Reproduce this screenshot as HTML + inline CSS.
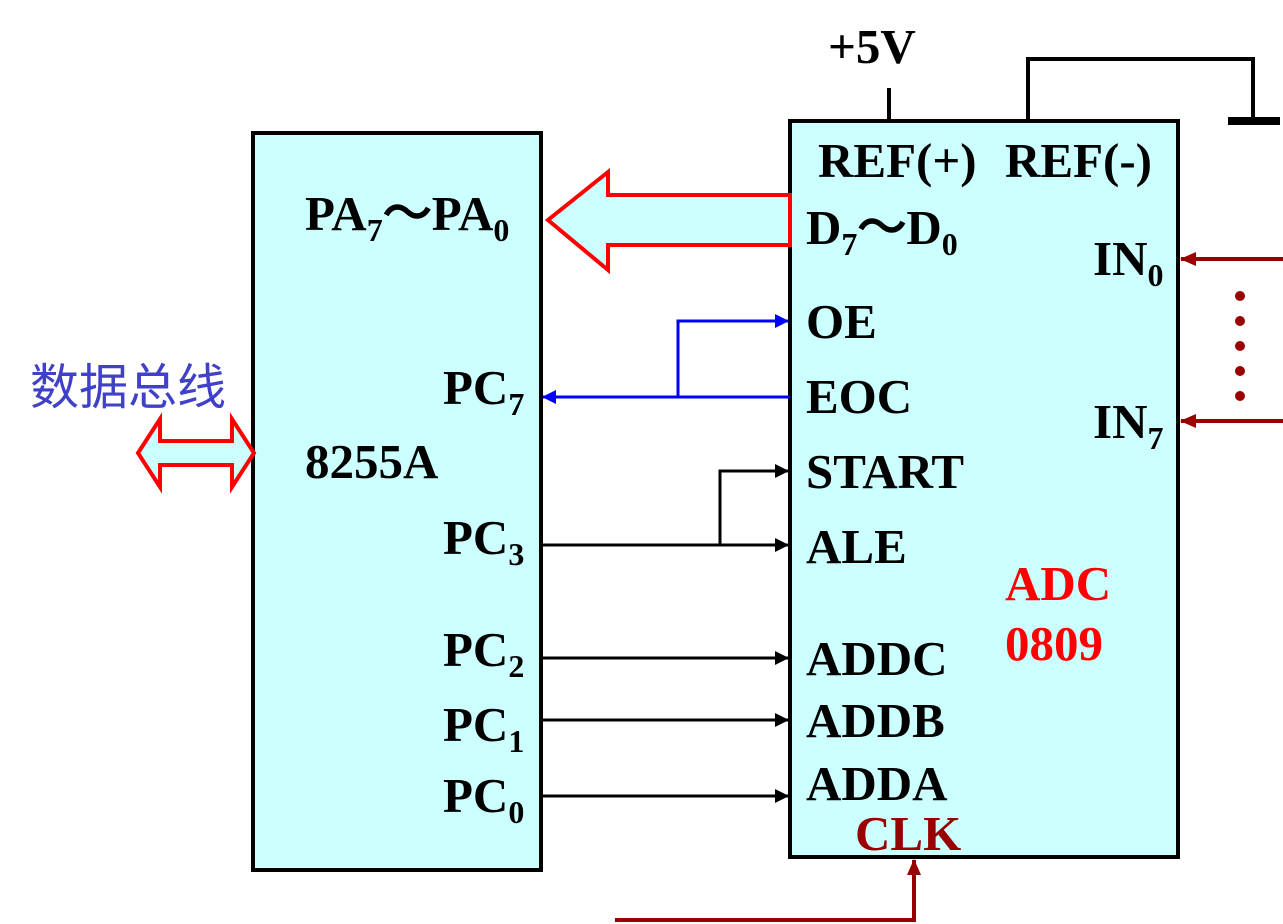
<!DOCTYPE html>
<html><head><meta charset="utf-8"><style>
html,body{margin:0;padding:0;background:#fff;}
svg{display:block;}
text{font-family:"Liberation Serif",serif;font-weight:bold;font-size:49px;fill:#000;}
.s{font-size:32px;}
</style></head><body>
<svg width="1283" height="924" viewBox="0 0 1283 924" xmlns="http://www.w3.org/2000/svg">
<defs>
<marker id="ak" markerWidth="14" markerHeight="14" refX="13" refY="7" orient="auto" markerUnits="userSpaceOnUse"><path d="M0,0 L14,7 L0,14 Z" fill="#000"/></marker>
<marker id="ab" markerWidth="14" markerHeight="14" refX="13" refY="7" orient="auto" markerUnits="userSpaceOnUse"><path d="M0,0 L14,7 L0,14 Z" fill="#00f"/></marker>
<marker id="ar" markerWidth="16" markerHeight="14" refX="15" refY="7" orient="auto" markerUnits="userSpaceOnUse"><path d="M0,0 L16,7 L0,14 Z" fill="#990000"/></marker>
</defs>
<rect x="253" y="133" width="288" height="737" fill="#ccffff" stroke="#000" stroke-width="4"/>
<rect x="790" y="121" width="388" height="736" fill="#ccffff" stroke="#000" stroke-width="4"/>
<line x1="889" y1="88" x2="889" y2="121" stroke="#000" stroke-width="4"/>
<polyline points="1028,121 1028,59 1253,59 1253,120" fill="none" stroke="#000" stroke-width="4"/>
<line x1="1228" y1="121" x2="1280" y2="121" stroke="#000" stroke-width="8"/>
<text x="828" y="63">+5V</text>
<polygon points="790,195 608,195 608,172 548,220 608,270 608,245 790,245" fill="#ccffff" stroke="#ff0000" stroke-width="4"/>
<polygon points="138,453 160,419 160,441 232,441 232,419 254,453 232,487 232,465 160,465 160,487" fill="#ccffff" stroke="#ff0000" stroke-width="4"/>
<line x1="790" y1="397" x2="543" y2="397" stroke="#00f" stroke-width="3" marker-end="url(#ab)"/>
<polyline points="678,397 678,321 788,321" fill="none" stroke="#00f" stroke-width="3" marker-end="url(#ab)"/>
<line x1="541" y1="545" x2="788" y2="545" stroke="#000" stroke-width="3" marker-end="url(#ak)"/>
<polyline points="720,545 720,471 788,471" fill="none" stroke="#000" stroke-width="3" marker-end="url(#ak)"/>
<line x1="541" y1="658" x2="788" y2="658" stroke="#000" stroke-width="3" marker-end="url(#ak)"/>
<line x1="541" y1="720" x2="788" y2="720" stroke="#000" stroke-width="3" marker-end="url(#ak)"/>
<line x1="541" y1="796" x2="788" y2="796" stroke="#000" stroke-width="3" marker-end="url(#ak)"/>
<line x1="1283" y1="259" x2="1181" y2="259" stroke="#990000" stroke-width="4" marker-end="url(#ar)"/>
<line x1="1283" y1="421" x2="1181" y2="421" stroke="#990000" stroke-width="4" marker-end="url(#ar)"/>
<polyline points="615,920 914,920 914,860" fill="none" stroke="#990000" stroke-width="4" marker-end="url(#ar)"/>
<g fill="#990000"><circle cx="1240" cy="296" r="5"/><circle cx="1240" cy="321" r="5"/><circle cx="1240" cy="346" r="5"/><circle cx="1240" cy="371" r="5"/><circle cx="1240" cy="396" r="5"/></g>
<text x="305" y="230">PA<tspan class="s" dy="11">7</tspan><tspan dy="-11">～PA</tspan><tspan class="s" dy="11">0</tspan></text>
<text x="443" y="404">PC<tspan class="s" dy="11">7</tspan></text>
<text x="305" y="478">8255A</text>
<text x="443" y="554">PC<tspan class="s" dy="11">3</tspan></text>
<text x="443" y="666">PC<tspan class="s" dy="11">2</tspan></text>
<text x="443" y="741">PC<tspan class="s" dy="11">1</tspan></text>
<text x="443" y="812">PC<tspan class="s" dy="11">0</tspan></text>
<text x="30" y="404" style="font-family:'Liberation Sans','Noto Sans CJK SC',sans-serif;font-weight:normal;font-size:49px;fill:#4040c8">数据总线</text>
<text x="818" y="177">REF(+)</text>
<text x="1005" y="177">REF(-)</text>
<text x="806" y="244">D<tspan class="s" dy="11">7</tspan><tspan dy="-11">～D</tspan><tspan class="s" dy="11">0</tspan></text>
<text x="1093" y="275">IN<tspan class="s" dy="11">0</tspan></text>
<text x="1093" y="438">IN<tspan class="s" dy="11">7</tspan></text>
<text x="806" y="338">OE</text>
<text x="806" y="413">EOC</text>
<text x="806" y="488">START</text>
<text x="806" y="563">ALE</text>
<text x="1005" y="600" style="fill:#ff0000">ADC</text>
<text x="1005" y="660" style="fill:#ff0000">0809</text>
<text x="806" y="675">ADDC</text>
<text x="806" y="737">ADDB</text>
<text x="806" y="800">ADDA</text>
<text x="855" y="850" style="fill:#990000">CLK</text>
</svg>
</body></html>
